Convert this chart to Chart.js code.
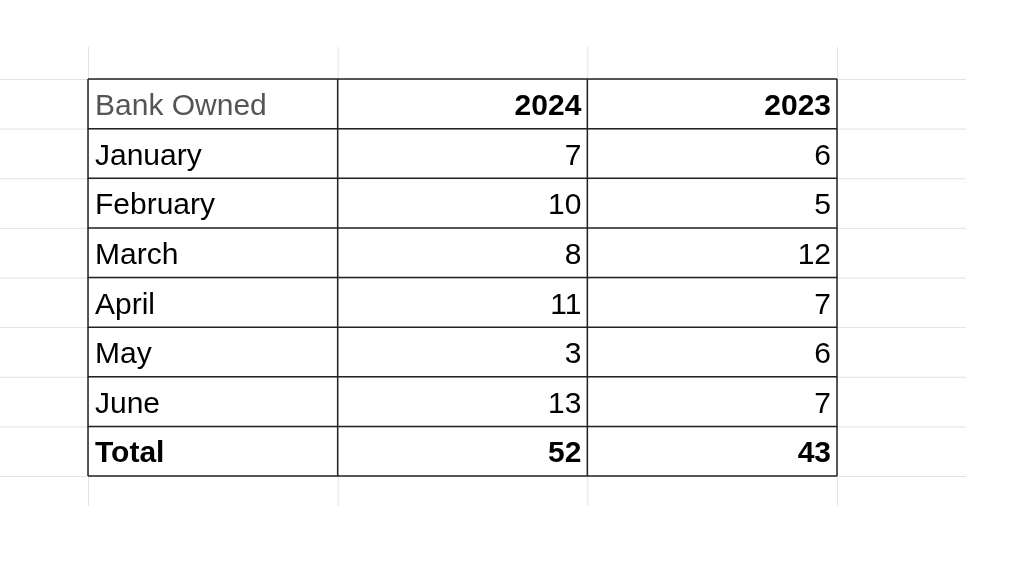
<!DOCTYPE html><html><head><style>html,body{margin:0;background:#fff}</style>
<script src="https://cdn.jsdelivr.net/npm/chart.js@4"></script></head><body>
<div style="width:1024px;height:576px"><canvas id="c"></canvas></div>
<script>
const title = "Bank Owned";
const columns = ["2024", "2023"];
const months = ["January","February","March","April","May","June"];
const v2024 = [7,10,8,11,3,13];
const v2023 = [6,5,12,7,6,7];
const totalLabel = "Total";
const total2024 = 52, total2023 = 43;

const tablePlugin = {
  id:'table',
  afterDraw(chart){
    const ctx=chart.ctx, xs=chart.scales.x, ys=chart.scales.y;
    const X=v=>xs.getPixelForValue(v), Y=v=>ys.getPixelForValue(v);
    ctx.save();
    ctx.strokeStyle='#e2e2e2'; ctx.lineWidth=1;
    for(let r=0;r<=8;r++){ctx.beginPath();ctx.moveTo(0,Y(r)+.5);ctx.lineTo(966,Y(r)+.5);ctx.stroke();}
    for(let c=0;c<=3;c++){ctx.beginPath();ctx.moveTo(X(c)+.5,Y(-0.65));ctx.lineTo(X(c)+.5,Y(8.6));ctx.stroke();}
    ctx.strokeStyle='#222'; ctx.lineWidth=1.5;
    for(let r=0;r<=8;r++){ctx.beginPath();ctx.moveTo(X(0),Y(r));ctx.lineTo(X(3),Y(r));ctx.stroke();}
    for(let c=0;c<=3;c++){ctx.beginPath();ctx.moveTo(X(c),Y(0));ctx.lineTo(X(c),Y(8));ctx.stroke();}
    const cell=(txt,col,row,bold,color,left)=>{
      ctx.font=(bold?'bold ':'')+'30px "Liberation Sans", Arial, sans-serif';
      ctx.fillStyle=color; ctx.textBaseline='middle';
      ctx.textAlign=left?'left':'right';
      ctx.fillText(txt,left?X(col)+7:X(col+1)-6,Y(row+0.5)+3);
    };
    cell(title,0,0,false,'#555',true);
    columns.forEach((c,i)=>cell(c,i+1,0,true,'#000',false));
    months.forEach((m,i)=>{cell(m,0,i+1,false,'#000',true);cell(String(v2024[i]),1,i+1,false,'#000',false);cell(String(v2023[i]),2,i+1,false,'#000',false);});
    cell(totalLabel,0,7,true,'#000',true);
    cell(String(total2024),1,7,true,'#000',false);
    cell(String(total2023),2,7,true,'#000',false);
    ctx.restore();
  }
};
new Chart(document.getElementById('c'),{
  type:'scatter',
  data:{datasets:[{data:[]}]},
  options:{responsive:true,maintainAspectRatio:false,animation:false,
    layout:{padding:{left:88,right:187,top:79,bottom:100}},
    plugins:{legend:{display:false},tooltip:{enabled:false}},
    scales:{x:{type:'linear',min:0,max:3,display:false},y:{type:'linear',min:0,max:8,reverse:true,display:false}}},
  plugins:[tablePlugin]
});
</script></body></html>
